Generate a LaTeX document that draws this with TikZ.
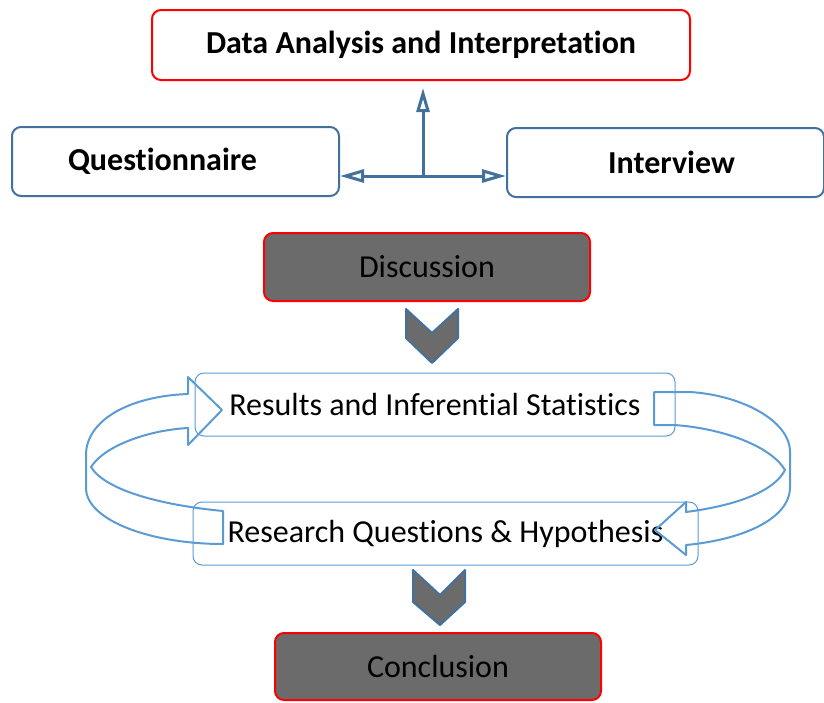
\documentclass[tikz,border=0pt]{standalone}
\usepackage{fontspec}
\setmainfont{Carlito}[Ligatures=NoCommon]
\usetikzlibrary{arrows.meta}
\definecolor{edgeblue}{RGB}{65,113,156}
\definecolor{ribbonblue}{RGB}{91,155,213}
\definecolor{boxred}{RGB}{255,0,0}
\definecolor{boxgray}{RGB}{107,107,107}
\tikzset{
  redbox/.style={draw=boxred,line width=2pt,rounded corners=9pt,inner sep=0pt,font=\fontsize{32}{36}\selectfont},
  bluebox/.style={draw=edgeblue,line width=2pt,rounded corners=9pt,inner sep=0pt,font=\bfseries\fontsize{32}{36}\selectfont},
  thinbox/.style={draw=ribbonblue,line width=1pt,rounded corners=9pt,inner sep=0pt,font=\fontsize{32}{36}\selectfont},
  connector/.style={draw=edgeblue,line width=3pt,-{Triangle[open,length=24pt,width=13pt]}},
  chevron/.style={fill=boxgray,draw=edgeblue,line width=2pt,line join=round},
  ribbon/.style={draw=ribbonblue,line width=2pt,line join=round},
}
\begin{document}
\begin{tikzpicture}[x=1pt,y=-1pt]
  \useasboundingbox (0,0) rectangle (824,702);
  % boxes
  \node[redbox,font=\bfseries\fontsize{32}{36}\selectfont,minimum width=538pt,minimum height=70pt] (analysis) at (421,45) {Data Analysis and Interpretation};
  \node[bluebox,minimum width=327pt,minimum height=69pt] (quest) at (175.5,161.5) {\hspace*{-26pt}Questionnaire};
  \node[bluebox,minimum width=317pt,minimum height=69pt] (inter) at (665.5,162.5) {\hspace*{12pt}Interview};
  \node[redbox,fill=boxgray,minimum width=326pt,minimum height=68pt] (discuss) at (427,267) {\raisebox{-2pt}{Discussion}};
  \node[thinbox,minimum width=480pt,minimum height=63pt] (results) at (435,404.5) {\raisebox{-2pt}{Results and Inferential Statistics}};
  \node[thinbox,minimum width=505pt,minimum height=63pt] (research) at (445.5,533.5) {\raisebox{-3pt}{Research Questions \& Hypothesis}};
  \node[redbox,fill=boxgray,minimum width=326pt,minimum height=67pt] (concl) at (438,666.5) {\raisebox{-2pt}{Conclusion}};
  % connectors
  \coordinate (hub) at (423,176);
  \coordinate (uptip) at (423,88);
  \draw[connector] (hub) -- (uptip);
  \draw[connector] (hub) -- (hub -| quest.east);
  \draw[connector] (hub) -- (hub -| inter.west);
  % chevrons
  \filldraw[chevron] (406,309) -- (432,333) -- (458,309) -- (458,338) -- (432,363) -- (406,338) -- cycle;
  \filldraw[chevron] (413,570) -- (440,595) -- (465,570) -- (465,602) -- (440,625) -- (413,602) -- cycle;
  % left ribbon arrow
  \draw[ribbon] (223,544) -- (223,511) .. controls (160,505) and (105,490) .. (91,467)
    .. controls (105,445) and (150,430) .. (188,428) -- (188,445) -- (222,410) -- (188,377) -- (188,394)
    .. controls (130,396) and (86,420) .. (86,455) -- (86,488)
    .. controls (86,520) and (150,544) .. cycle;
  % right ribbon arrow
  \draw[ribbon] (654,392) -- (690,392) .. controls (740,395) and (790,420) .. (790,452) -- (790,487)
    .. controls (790,520) and (740,540) .. (686,545) -- (686,555) -- (655,530) -- (686,502) -- (686,512)
    .. controls (740,505) and (775,490) .. (785,470)
    .. controls (770,445) and (720,428) .. (674,425) -- (654,425) -- cycle;
\end{tikzpicture}
\end{document}
